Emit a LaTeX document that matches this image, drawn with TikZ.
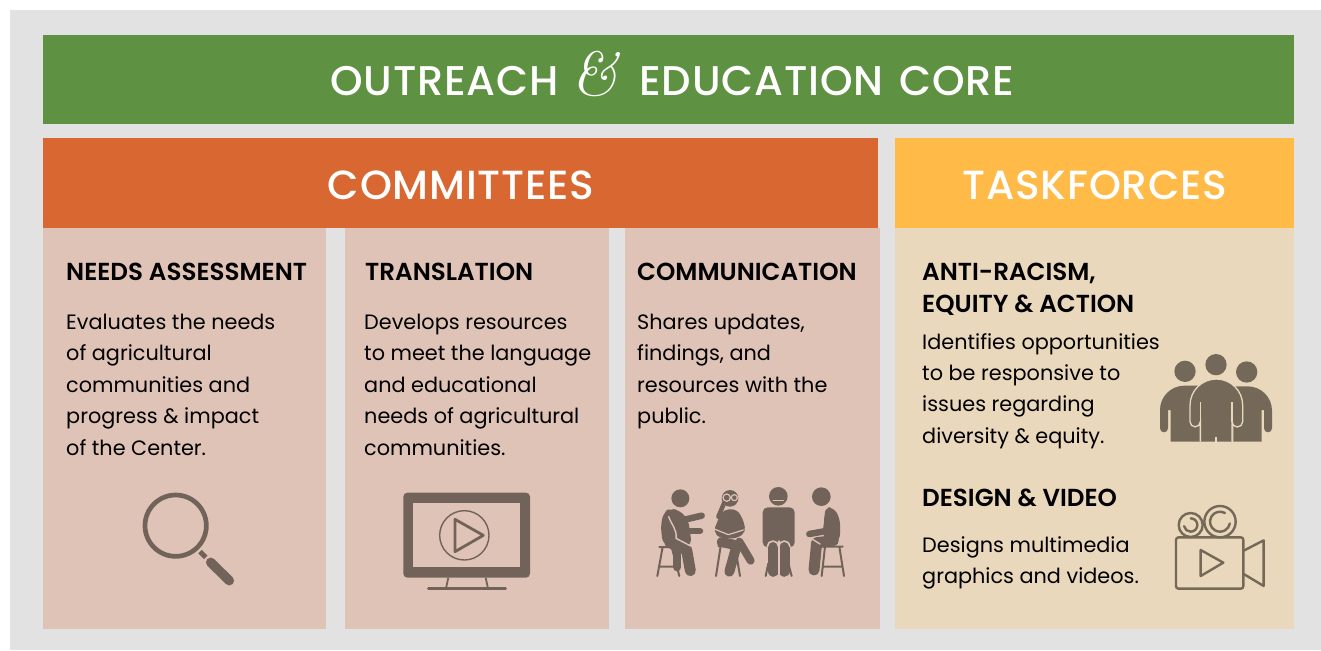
\documentclass[tikz,border=0pt]{standalone}
\usepackage{fontspec}
\setmainfont{Poppins}
\newfontfamily\bodyf{Poppins}
\newfontfamily\headf[LetterSpace=2]{Poppins Medium}
\newfontfamily\subf{Poppins SemiBold}
\definecolor{bggray}{HTML}{E2E2E2}
\definecolor{cgreen}{HTML}{5E9141}
\definecolor{corange}{HTML}{D96731}
\definecolor{cyellow}{HTML}{FFBA47}
\definecolor{cpink}{HTML}{E0C3B7}
\definecolor{cbeige}{HTML}{EAD8BC}
\definecolor{icona}{HTML}{72635A}
\definecolor{iconb}{HTML}{746858}
\tikzset{
  x=1pt,y=-1pt,
  bar/.style={font=\headf\fontsize{40.7}{44}\selectfont,text=white,inner sep=0pt},
  card/.style={fill=#1,draw=none},
  head/.style={font=\subf\fontsize{24.6}{31.4}\selectfont,text=black,anchor=north west,align=left,inner sep=0pt},
  body/.style={font=\bodyf\fontsize{20.8}{31.4}\selectfont,text=black,anchor=north west,align=left,inner sep=0pt},
  iline/.style={line cap=round,line join=round},
}
\begin{document}
\begin{tikzpicture}
\useasboundingbox (0,0) rectangle (1321,650);
\fill[white] (0,0) rectangle (1321,650);
\fill[bggray] (10,10) rectangle (1321,650);
\fill[card=cgreen] (43,35) rectangle (1294,124);
\fill[card=corange] (43,138) rectangle (878,228);
\fill[card=cyellow] (895,138) rectangle (1294,228);
\fill[card=cpink] (43,228) rectangle (326,629);
\fill[card=cpink] (345,228) rectangle (609,629);
\fill[card=cpink] (625,228) rectangle (880,629);
\fill[card=cbeige] (895,228) rectangle (1294,629);

\node[bar,font=\headf\fontsize{41.5}{44}\selectfont] (title) at (672.5,74) {OUTREACH\hspace{13pt}{\fontspec{Latin Modern Roman}\itshape\fontsize{62}{62}\selectfont\&}\hspace{21pt}EDUCATION\hspace{16pt}CORE};
\node[bar] (comm) at (461,185) {COMMITTEES};
\node[bar] (task) at (1095,185) {TASKFORCES};

\node[head] (h1) at (66,263) {NEEDS ASSESSMENT};
\node[body] (b1) at (66,314) {Evaluates the needs\\of agricultural\\communities and\\progress \& impact\\of the Center.};
\node[head] (h2) at (365,263) {TRANSLATION};
\node[body] (b2) at (364,314) {Develops resources\\to meet the language\\and educational\\needs of agricultural\\communities.};
\node[head] (h3) at (637,263) {COMMUNICATION};
\node[body] (b3) at (637,314) {Shares updates,\\findings, and\\resources with the\\public.};
\node[head] (h4) at (922,263) {ANTI-RACISM,\\EQUITY \& ACTION};
\node[body] (b4) at (922,333) {Identifies opportunities\\to be responsive to\\issues regarding\\diversity \& equity.};
\node[head] (h5) at (922,489) {DESIGN \& VIDEO};
\node[body] (b5) at (922,536) {Designs multimedia\\graphics and videos.};

% magnifier and monitor
\begin{scope}[shift={(120,470)},scale=1/3,icona,iline]
\draw[line width=4.7pt] (167,167) circle (92);
\draw[line width=5pt,line cap=butt] (240,245) -- (257,262);
\draw[line width=9.5pt] (272,277) -- (328,332);
\fill[rounded corners=4pt] (850,68) rectangle (1230,323);
\fill[cpink] (880,98) rectangle (1200,292);
\draw[line width=1.4pt] (1033,196) circle (74);
\draw[line width=2.8pt] (1005,148) -- (1090,196) -- (1005,245) -- cycle;
\draw[line width=1.8pt,line cap=butt] (985,323) -- (978,355) (1097,323) -- (1104,355);
\draw[line width=2.4pt] (925,355) -- (1157,355);
\end{scope}

% seated people
\begin{scope}[shift={(620,470)},scale=1/3,icona,iline]
% person 1
\fill (181,85) circle (27);
\draw[line width=2pt] (118,231) -- (165,231) (128,231) -- (112,318) (155,231) -- (178,318) (116,290) -- (175,290);
\fill[rounded corners=6pt] (150,116) -- (178,120) -- (205,150) -- (215,222) -- (190,240) -- (128,222) -- (122,165) -- (132,125) -- cycle;
\draw[line width=8pt] (172,245) -- (172,292);
\draw[line width=11pt] (150,218) -- (200,240) -- (211,302);
\draw[line width=6.5pt] (190,150) -- (245,137);
\draw[line width=6.5pt] (175,183) -- (240,183);
\draw[cpink,line width=1.4pt] (146,140) .. controls (155,165) and (172,180) .. (168,205) -- (212,228);
% person 2
\draw[line width=2pt] (295,228) -- (355,228) (302,228) -- (288,318) (345,228) -- (360,318);
\fill (330,85) circle (25);
\draw[cpink,line width=1.2pt] (320,83) circle (11) (343,83) circle (9);
\draw[line width=4.5pt] (312,100) -- (295,140);
\fill[rounded corners=5pt] (312,118) -- (350,118) -- (368,145) -- (378,185) -- (352,205) -- (300,205) -- (280,185) -- (298,140) -- cycle;
\draw[line width=8pt] (358,215) -- (392,272);
\draw[cpink,line width=1.4pt] (295,206) -- (360,218);
\draw[line width=10pt] (305,216) -- (350,226) -- (328,305);
\draw[cpink,line width=1.2pt] (285,178) -- (325,194) -- (370,180);
% person 3
\draw[line width=2pt] (445,280) -- (437,318) (505,280) -- (515,318);
\fill[rounded corners=5pt] (428,112) rectangle (524,232);
\fill (475,79) circle (28);
\draw[cpink,line width=1.6pt] (460,92) -- (490,92);
\draw[line width=11.5pt] (460,225) -- (460,303) (493,225) -- (493,303);
\draw[cpink,line width=1.6pt] (442,230) arc (180:360:17) arc (180:360:17);
\draw[cpink,line width=1.4pt] (476.5,213) -- (476.5,320);
% person 4
\draw[line width=2pt] (605,230) -- (668,230) (615,230) -- (605,318) (658,230) -- (672,318) (610,290) -- (668,290);
\fill (604,80) circle (28);
\fill[rounded corners=6pt] (615,112) -- (640,112) -- (660,145) -- (660,212) -- (615,225) -- (610,180) -- cycle;
\draw[line width=11pt] (640,212) -- (590,218) -- (582,300);
\draw[cpink,line width=1.4pt] (612,128) -- (606,170) -- (565,200) -- (600,222);
\draw[line width=6.5pt] (627,135) -- (618,183) -- (568,192);
\end{scope}

% group
\begin{scope}[shift={(1140,340)},scale=1/3,iconb]
\fill (135,94) circle (32) (228,74) circle (32) (320,96) circle (32);
\fill (60,265) -- (60,210) arc (180:270:73) -- (180,137) -- (180,305) -- (92,305) -- (92,210) -- (84,210) -- (84,265) arc (0:180:12) -- cycle;
\fill (396,265) -- (396,212) arc (0:-90:73) -- (280,139) -- (280,305) -- (365,305) -- (365,210) -- (372,210) -- (372,265) arc (180:0:12) -- cycle;
\fill (150,245) -- (150,196) arc (180:360:79) -- (308,245) arc (0:180:16) -- (276,305) -- (181,305) -- (181,245) arc (0:180:15.5) -- cycle;
\draw[cbeige,line width=1.3pt] (181,305) -- (181,245) arc (0:180:15.5) -- (150,196) arc (180:360:79) -- (308,245) arc (0:180:16) -- (276,305);
\draw[cbeige,line width=1.3pt] (181,186) -- (181,245) (276,186) -- (276,245) (228,290) -- (228,306);
\end{scope}

% camera
\begin{scope}[shift={(1140,340)},scale=1/3,iconb,iline,line width=2.4pt]
\draw[rounded corners=2.5pt] (108,592) rectangle (310,746);
\draw (182,630) -- (250,668) -- (182,708) -- cycle;
\draw (311,632) -- (371,601) -- (371,738) -- (311,702);
\draw[fill=cbeige] (152,555) circle (36);
\draw[fill=cbeige] (240,545) circle (47);
\draw (152,555) ++(-90:20) arc (-90:170:20);
\draw (240,545) ++(-60:30) arc (-60:-350:30);
\end{scope}
\end{tikzpicture}
\end{document}
